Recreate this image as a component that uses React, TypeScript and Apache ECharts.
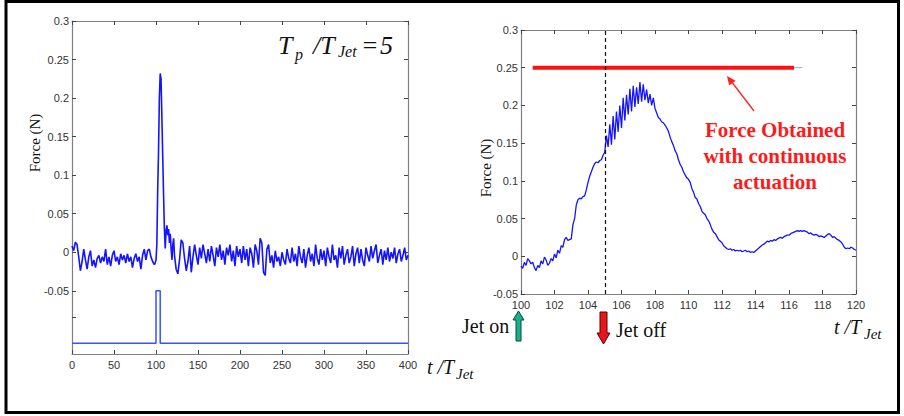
import React, { useEffect, useRef } from "react";
import * as echarts from "echarts";

// ---- Left panel: force history over the whole run (t / T_Jet = 0 … 400) ----
// samples every 2 units before the jet pulse
const preJetForce = [
  0.008, 0.002, 0.013, 0.01, -0.006, -0.024, -0.012, 0.004, -0.01, -0.022,
  -0.006, 0.002, -0.018, -0.01, -0.02, -0.008, -0.004, -0.014, -0.006, -0.012,
  0.004, -0.016, -0.006, -0.018, -0.004, 0.002, -0.012, -0.006, -0.016, -0.002,
  -0.01, -0.004, -0.014, -0.002, -0.012, -0.006, -0.02, -0.008, -0.002, -0.012,
  -0.006, -0.022, -0.004, 0.004, -0.01, 0.002, 0.004, -0.006, -0.012, -0.016,
];
// samples every unit from 99 to 121, around the pulse response
const jetForce = [
  -0.014, -0.01, 0.01, 0.08, 0.13, 0.2, 0.232, 0.225, 0.175, 0.125,
  0.075, 0.03, 0.005, 0.028, 0.035, 0.022, 0.03, 0.012, 0.024, 0.004,
  -0.01, 0.01, 0.018,
];
// samples every 2 units from 122 to 400
const postJetForce = [
  -0.004, -0.022, -0.028, -0.01, 0.016, 0.012, -0.008, -0.024, -0.012, 0.008,
  -0.026, -0.006, 0.01, -0.004, -0.016, 0.006, -0.008, 0.01, -0.002, -0.014,
  0.004, -0.012, 0.008, -0.004, -0.018, 0.006, -0.006, 0.01, -0.01, 0.002,
  -0.016, 0.006, -0.004, 0.01, -0.012, 0.002, -0.018, 0.008, -0.006, 0.004,
  -0.014, 0.008, -0.01, 0.004, -0.018, 0.006, -0.002, -0.02, 0.01, 0.002,
  -0.016, 0.018, 0.012, -0.026, -0.03, 0.004, 0.01, -0.014, -0.004, -0.02,
  0.002, -0.012, -0.006, -0.018, 0.0, -0.01, -0.016, 0.004, -0.008, -0.014,
  0.006, -0.012, -0.002, -0.018, 0.008, -0.006, -0.014, 0.004, -0.02, -0.004,
  0.006, -0.012, -0.002, -0.018, 0.01, -0.008, -0.016, 0.004, -0.01, 0.002,
  -0.018, 0.006, -0.006, -0.014, 0.01, -0.01, -0.004, -0.02, 0.006, -0.008,
  0.008, -0.016, -0.004, 0.004, -0.014, -0.006, 0.008, -0.018, -0.002, 0.006,
  -0.014, 0.004, -0.01, -0.018, 0.006, -0.004, -0.012, 0.008, -0.008, 0.002,
  0.01, -0.014, -0.004, 0.004, -0.016, 0.002, -0.01, 0.006, -0.012, 0.0,
  -0.008, 0.006, -0.014, -0.002, 0.004, -0.012, -0.004, 0.006, -0.01, -0.004,
];

// jet on/off signal drawn under the force trace
const jetOnTime = 100;
const jetOffTime = 105;
const pulseLow = -0.118;
const pulseHigh = -0.05;

const leftYLabelValues = [-0.05, 0, 0.05, 0.1, 0.15, 0.2, 0.25, 0.3];
const leftYTickValues = [-0.118, -0.084, ...leftYLabelValues];

// ---- Right panel: zoom on one pulse, samples every 0.1 from 100 to 120 ----
const rightForce = [
  -0.013, -0.016, -0.008, -0.012, -0.003, -0.006, -0.01, -0.008, -0.015, -0.019,
  -0.012, -0.015, -0.006, -0.01, -0.001, -0.005, -0.012, -0.009, -0.003, -0.006,
  0.003, -0.002, 0.008, 0.004, 0.014, 0.012, 0.022, 0.025, 0.021, 0.022,
  0.023, 0.042, 0.05, 0.068, 0.075, 0.077, 0.076, 0.079, 0.08, 0.088,
  0.098, 0.106, 0.112, 0.118, 0.123, 0.125, 0.124, 0.127, 0.128, 0.134,
  0.138, 0.16, 0.145, 0.175, 0.148, 0.186, 0.155, 0.192, 0.165, 0.2,
  0.17, 0.21, 0.18, 0.214, 0.188, 0.222, 0.192, 0.226, 0.198, 0.224,
  0.202, 0.231, 0.205, 0.228, 0.207, 0.221, 0.203, 0.215, 0.2, 0.21,
  0.196, 0.19, 0.184, 0.182, 0.178, 0.177, 0.174, 0.17, 0.166, 0.158,
  0.152, 0.147, 0.14, 0.136, 0.128, 0.122, 0.118, 0.112, 0.108, 0.104,
  0.102, 0.098, 0.09, 0.085, 0.078, 0.076, 0.07, 0.066, 0.06, 0.057,
  0.055, 0.05, 0.047, 0.042, 0.036, 0.032, 0.03, 0.026, 0.022, 0.02,
  0.018, 0.014, 0.012, 0.01, 0.009, 0.01, 0.008, 0.009, 0.007, 0.008,
  0.007, 0.008, 0.006, 0.007, 0.008, 0.006, 0.007, 0.005, 0.006, 0.005,
  0.007, 0.009, 0.011, 0.013, 0.015, 0.016, 0.018, 0.02, 0.019, 0.021,
  0.02, 0.022, 0.021, 0.023, 0.024, 0.025, 0.024, 0.026, 0.027, 0.028,
  0.028, 0.03, 0.031, 0.032, 0.033, 0.034, 0.033, 0.034, 0.033, 0.034,
  0.033, 0.032, 0.03, 0.031, 0.029, 0.028, 0.029, 0.028, 0.026, 0.027,
  0.026, 0.025, 0.027, 0.029, 0.03, 0.028, 0.025, 0.026, 0.024, 0.022,
  0.021, 0.019, 0.016, 0.012, 0.01, 0.011, 0.01, 0.012, 0.011, 0.009,
  0.008,
];

// force level reached with continuous actuation
const continuousForce = 0.25;
const continuousStart = 100.7;
const continuousEnd = 116.3;
const continuousTail = 116.8;

const SERIF = '"Liberation Serif", "Times New Roman", "DejaVu Serif", serif';
const SANS = '"Liberation Sans", Arial, Helvetica, sans-serif';
const BOX = "#808080";
const TRACE = "#1414ff";

function boxAxis(extra: any) {
  return {
    type: "value",
    axisLine: { show: true, onZero: false, lineStyle: { color: BOX, width: 1.2 } },
    axisTick: { show: true, inside: true, length: 4, lineStyle: { color: "#444" } },
    splitLine: { show: false },
    axisLabel: { show: false },
    ...extra,
  };
}

const tickLabel = { color: "#333", fontSize: 11, fontFamily: SANS };

function italic(text: string, x: number, y: number, size: number) {
  return {
    type: "text", x, y,
    style: { text, font: `italic ${size}px ${SERIF}`, fill: "#111", verticalAlign: "middle" },
  };
}

export default function App() {
  const ref = useRef<HTMLDivElement>(null);

  useEffect(() => {
    if (!ref.current) return;
    const chart = echarts.init(ref.current, undefined, { renderer: "svg" });

    const leftSignal: [number, number][] = [
      ...preJetForce.map((f, i) => [i * 2, f] as [number, number]),
      ...jetForce.map((f, i) => [99 + i, f] as [number, number]),
      ...postJetForce.map((f, i) => [122 + i * 2, f] as [number, number]),
    ];
    const pulse: [number, number][] = [
      [0, pulseLow],
      [jetOnTime, pulseLow],
      [jetOnTime, pulseHigh],
      [jetOffTime, pulseHigh],
      [jetOffTime, pulseLow],
      [400, pulseLow],
    ];
    const rightSignal: [number, number][] = rightForce.map(
      (f, i) => [(1000 + i) / 10, f] as [number, number]
    );

    const option: any = {
      animation: false,
      backgroundColor: "#ffffff",
      grid: [
        { left: 72, top: 21, width: 336, height: 333 },
        { left: 521, top: 30, width: 335, height: 264 },
      ],
      xAxis: [
        boxAxis({
          gridIndex: 0, min: 0, max: 400, interval: 50, position: "bottom",
          axisLabel: { show: true, margin: 5, ...tickLabel },
        }),
        boxAxis({ gridIndex: 0, min: 0, max: 400, interval: 50, position: "top" }),
        boxAxis({
          gridIndex: 1, min: 100, max: 120, interval: 2, position: "bottom",
          axisLabel: { show: true, margin: 5, ...tickLabel },
        }),
        boxAxis({ gridIndex: 1, min: 100, max: 120, interval: 2, position: "top" }),
      ],
      yAxis: [
        boxAxis({
          gridIndex: 0, min: -0.132, max: 0.3, position: "left",
          axisTick: {
            show: true, inside: true, length: 4, lineStyle: { color: "#444" },
            customValues: leftYTickValues,
          },
          axisLabel: { show: true, margin: 3, ...tickLabel, customValues: leftYLabelValues },
        }),
        boxAxis({
          gridIndex: 0, min: -0.132, max: 0.3, position: "right",
          axisTick: {
            show: true, inside: true, length: 4, lineStyle: { color: "#444" },
            customValues: leftYTickValues,
          },
        }),
        boxAxis({
          gridIndex: 1, min: -0.05, max: 0.3, interval: 0.05, position: "left",
          axisLabel: { show: true, margin: 3, ...tickLabel },
        }),
        boxAxis({ gridIndex: 1, min: -0.05, max: 0.3, interval: 0.05, position: "right" }),
      ],
      series: [
        {
          type: "line", xAxisIndex: 0, yAxisIndex: 0, data: pulse,
          showSymbol: false, lineStyle: { color: "#3355ff", width: 1.5 },
        },
        {
          type: "line", xAxisIndex: 0, yAxisIndex: 0, data: leftSignal,
          showSymbol: false, lineStyle: { color: TRACE, width: 1.6 },
        },
        {
          type: "line", xAxisIndex: 2, yAxisIndex: 2,
          data: [[continuousStart, continuousForce], [continuousTail, continuousForce]],
          showSymbol: false, lineStyle: { color: "#a8b8ff", width: 1.2 },
        },
        {
          type: "line", xAxisIndex: 2, yAxisIndex: 2,
          data: [[continuousStart, continuousForce], [continuousEnd, continuousForce]],
          showSymbol: false, lineStyle: { color: "#ff1010", width: 4 },
        },
        {
          type: "line", xAxisIndex: 2, yAxisIndex: 2, data: rightSignal,
          showSymbol: false, lineStyle: { color: TRACE, width: 1.3 },
          markLine: {
            silent: true, symbol: "none", label: { show: false },
            lineStyle: { color: "#111", type: [4, 3], width: 1.2 },
            data: [{ xAxis: jetOffTime }],
          },
        },
      ],
      graphic: [
        // outer frame
        {
          type: "rect", shape: { x: 6, y: 1.5, width: 892.5, height: 411 },
          style: { fill: "none", stroke: "#000", lineWidth: 3 }, z: 10,
        },
        // y-axis names
        {
          type: "text", x: 35, y: 143, rotation: Math.PI / 2,
          style: { text: "Force (N)", font: `15px ${SERIF}`, fill: "#111", align: "center", verticalAlign: "middle" },
        },
        {
          type: "text", x: 486, y: 168, rotation: Math.PI / 2,
          style: { text: "Force (N)", font: `15px ${SERIF}`, fill: "#111", align: "center", verticalAlign: "middle" },
        },
        // T_p / T_Jet = 5
        italic("T", 278, 45, 26),
        italic("p", 295, 54, 16),
        italic("/T", 313, 45, 26),
        italic("Jet", 338, 51, 16),
        italic("=", 361, 45, 26),
        italic("5", 380, 45, 26),
        // t / T_Jet labels
        italic("t /T", 427, 367, 20),
        italic("Jet", 456, 374, 15),
        italic("t /T", 834, 327, 20),
        italic("Jet", 864, 334, 15),
        // jet on / off markers
        { type: "text", x: 462, y: 326, style: { text: "Jet on", font: `20px ${SERIF}`, fill: "#111", verticalAlign: "middle" } },
        {
          type: "polygon",
          shape: { points: [[516, 341], [521, 341], [521, 320], [524, 320], [518.5, 311], [513, 320], [516, 320]] },
          style: { fill: "#19b08a", stroke: "#0b4a3a", lineWidth: 1 },
        },
        { type: "text", x: 616, y: 330, style: { text: "Jet off", font: `20px ${SERIF}`, fill: "#111", verticalAlign: "middle" } },
        {
          type: "polygon",
          shape: { points: [[600, 312], [607, 312], [607, 333], [610, 333], [603.5, 344], [597, 333], [600, 333]] },
          style: { fill: "#e8161b", stroke: "#5a0000", lineWidth: 1 },
        },
        // annotation for continuous actuation
        {
          type: "line", shape: { x1: 754, y1: 111, x2: 731, y2: 81 },
          style: { stroke: "#ff2020", lineWidth: 1.3 },
        },
        {
          type: "polygon",
          shape: { points: [[727, 76], [735.6, 80.8], [729.2, 85.6]] },
          style: { fill: "#ff2020" },
        },
        {
          type: "text", x: 775, y: 156,
          style: {
            text: "Force Obtained\nwith continuous\nactuation",
            font: `bold 21px ${SERIF}`, fill: "#ff1a1a",
            align: "center", verticalAlign: "middle", lineHeight: 26,
          },
        },
      ],
    };

    chart.setOption(option);
    return () => chart.dispose();
  }, []);

  return (
    <div
      ref={ref}
      style={{ position: "fixed", left: 0, top: 0, width: 904, height: 416, background: "#fff" }}
    />
  );
}
